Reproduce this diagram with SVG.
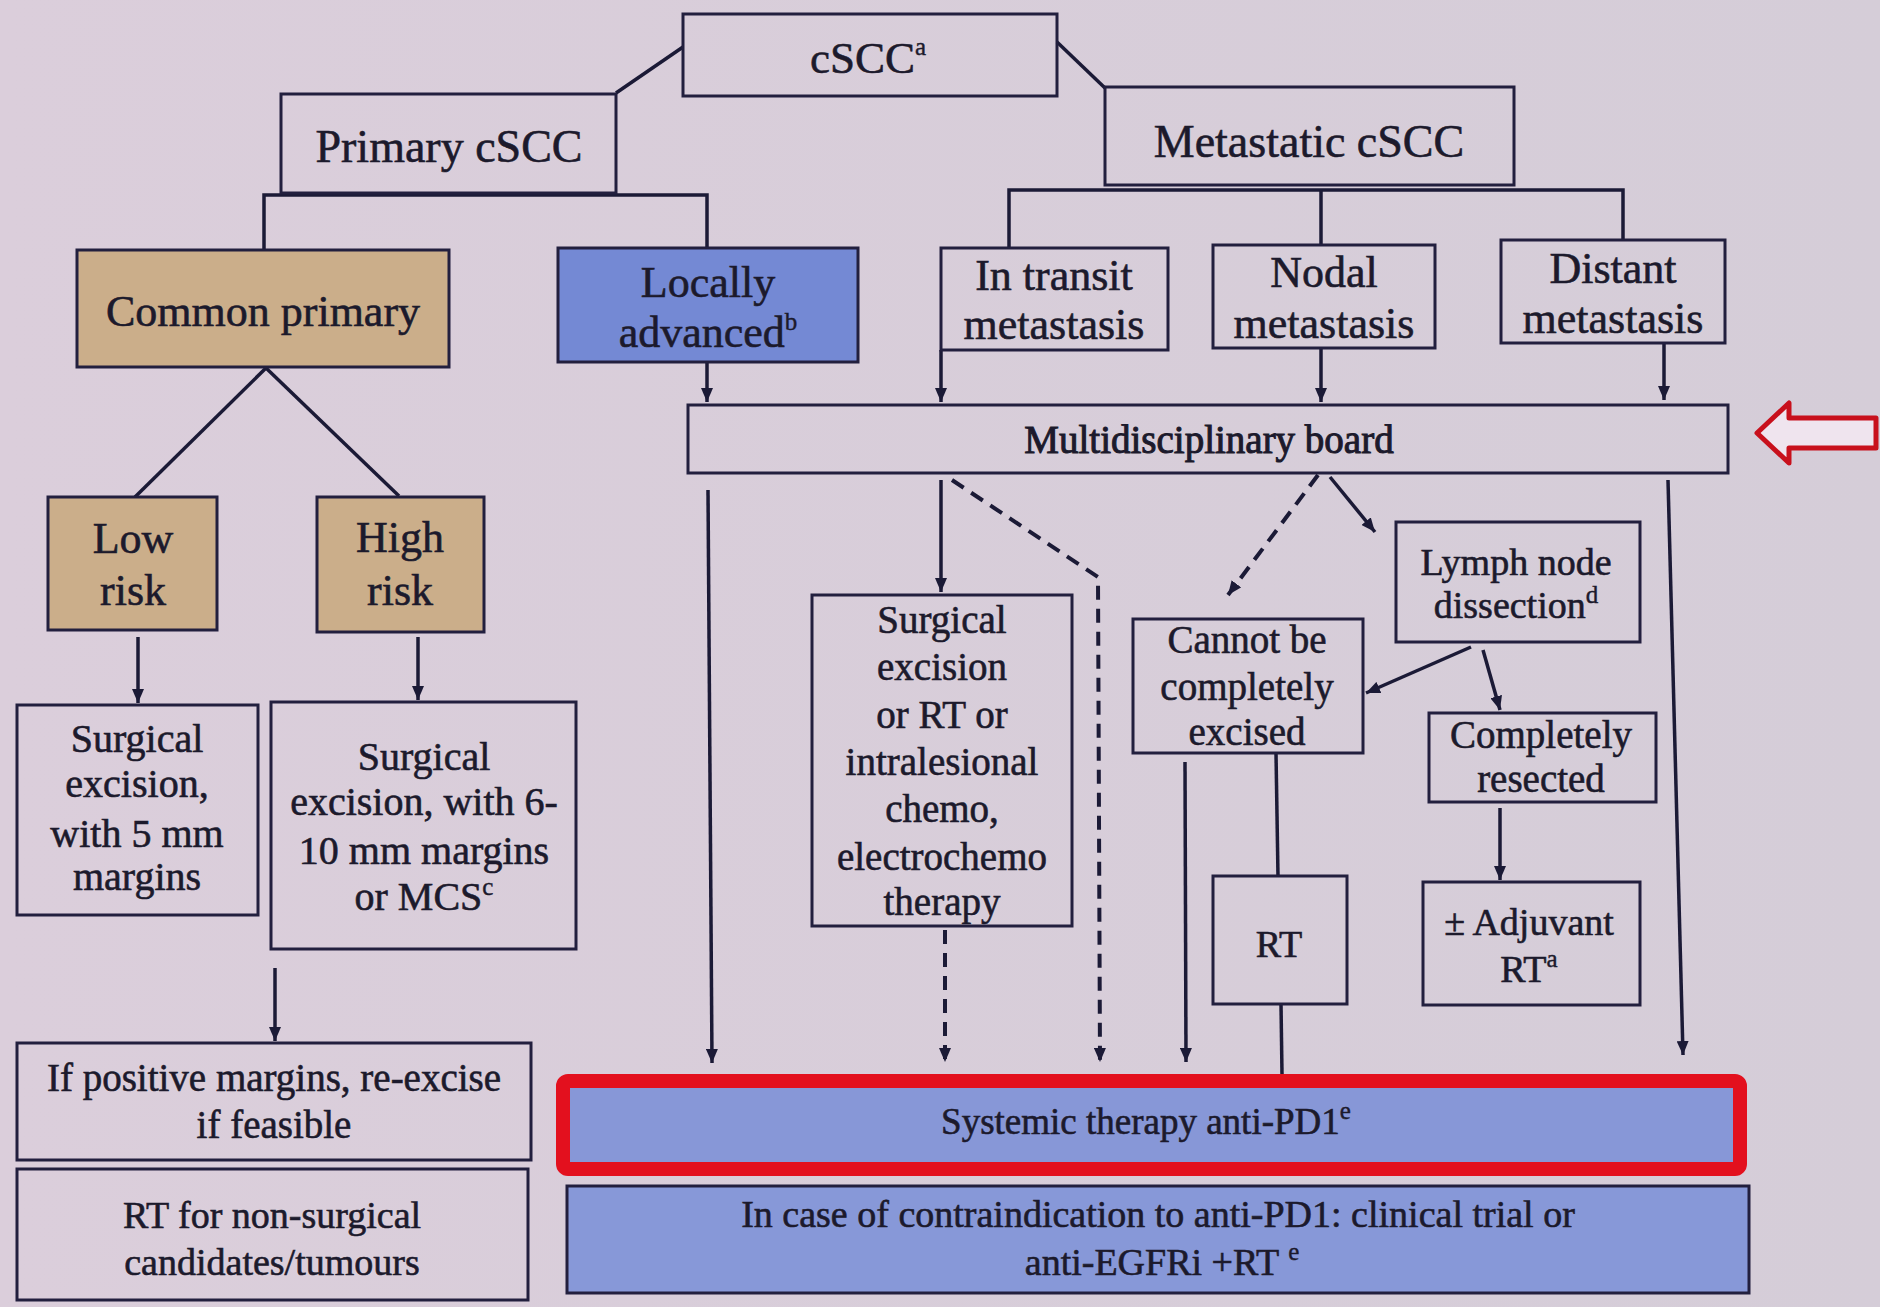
<svg xmlns="http://www.w3.org/2000/svg" width="1880" height="1307" viewBox="0 0 1880 1307">
<defs>
<marker id="ah" viewBox="0 0 14 12" refX="14" refY="6" markerWidth="14" markerHeight="12" markerUnits="userSpaceOnUse" orient="auto">
<path d="M0,0 L14,6 L0,12 z" fill="#1b1a36"/>
</marker>
<linearGradient id="bg" x1="0" y1="0" x2="1" y2="0">
<stop offset="0" stop-color="#dbcedb"/>
<stop offset="1" stop-color="#d5cdd8"/>
</linearGradient>
</defs>
<style>
text{font-family:"Liberation Serif","Times New Roman",serif;fill:#1c1a2c;stroke:#1c1a2c;stroke-width:0.6px;text-anchor:middle}
.box{fill:none;stroke:#221f3e;stroke-width:3}
.tan{fill:#cbae8a;stroke:#221f3e;stroke-width:3}
.blue{fill:#7489d4;stroke:#221f3e;stroke-width:3}
.blue2{fill:#8798d8;stroke:#221f3e;stroke-width:3}
.ln{fill:none;stroke:#1b1a36;stroke-width:3.5}
.ar{fill:none;stroke:#1b1a36;stroke-width:3.5;marker-end:url(#ah)}
.da{fill:none;stroke:#1b1a36;stroke-width:4;stroke-dasharray:14 9;marker-end:url(#ah)}
.f44{font-size:44px}
.f40{font-size:40px}
.f39{font-size:39px}
.f38{font-size:38px}
.f37{font-size:37px}
.sup{font-size:25px;stroke-width:0.4px}
</style>
<rect width="1880" height="1307" fill="url(#bg)"/>

<g id="connectors">
<line class="ln" x1="683" y1="47" x2="616" y2="93"/>
<line class="ln" x1="1057" y1="42" x2="1105" y2="88"/>
<polyline class="ln" points="264,250 264,195 707,195 707,248"/>
<polyline class="ln" points="1009,248 1009,190 1623,190 1623,240"/>
<line class="ln" x1="1321" y1="190" x2="1321" y2="245"/>
<line class="ln" x1="266" y1="368" x2="135" y2="497"/>
<line class="ln" x1="266" y1="368" x2="399" y2="496"/>
<line class="ar" x1="138" y1="637" x2="138" y2="703"/>
<line class="ar" x1="418" y1="637" x2="418" y2="700"/>
<line class="ar" x1="275" y1="968" x2="275" y2="1041"/>
<line class="ar" x1="707" y1="363" x2="707" y2="402"/>
<line class="ar" x1="941" y1="350" x2="941" y2="402"/>
<line class="ar" x1="1321" y1="348" x2="1321" y2="402"/>
<line class="ar" x1="1664" y1="343" x2="1664" y2="400"/>
<line class="ar" x1="708" y1="490" x2="712" y2="1063"/>
<line class="ar" x1="941" y1="480" x2="941" y2="592"/>
<polyline class="da" points="952,480 1098,577 1100,1062"/>
<line class="da" x1="945" y1="930" x2="945" y2="1062"/>
<line class="da" x1="1318" y1="475" x2="1228" y2="595"/>
<line class="ar" x1="1330" y1="477" x2="1375" y2="532"/>
<line class="ar" x1="1471" y1="647" x2="1366" y2="693"/>
<line class="ar" x1="1483" y1="650" x2="1500" y2="710"/>
<line class="ar" x1="1500" y1="808" x2="1500" y2="880"/>
<line class="ln" x1="1276" y1="753" x2="1278" y2="876"/>
<line class="ln" x1="1281" y1="1004" x2="1282" y2="1074"/>
<line class="ar" x1="1185" y1="762" x2="1186" y2="1062"/>
<line class="ar" x1="1668" y1="480" x2="1683" y2="1055"/>
</g>

<g id="n-cscc">
<rect class="box" x="683" y="14" width="374" height="82"/>
<text x="868" y="73" style="font-size:45px">cSCC<tspan class="sup" dy="-18">a</tspan></text>
</g>
<g id="n-primary">
<rect class="box" x="281" y="94" width="335" height="99"/>
<text x="449" y="162" style="font-size:46px">Primary cSCC</text>
</g>
<g id="n-metastatic">
<rect class="box" x="1105" y="87" width="409" height="98"/>
<text x="1309" y="157" style="font-size:46px">Metastatic cSCC</text>
</g>
<g id="n-common">
<rect class="tan" x="77" y="250" width="372" height="117"/>
<text class="f44" x="263" y="326">Common primary</text>
</g>
<g id="n-locally">
<rect class="blue" x="558" y="248" width="300" height="114"/>
<text class="f44" x="708" y="297">Locally</text>
<text class="f44" x="708" y="347">advanced<tspan class="sup" dy="-17">b</tspan></text>
</g>
<g id="n-intransit">
<rect class="box" x="941" y="248" width="227" height="102"/>
<text class="f44" x="1054" y="290">In transit</text>
<text class="f44" x="1054" y="339">metastasis</text>
</g>
<g id="n-nodal">
<rect class="box" x="1213" y="245" width="222" height="103"/>
<text class="f44" x="1324" y="287">Nodal</text>
<text class="f44" x="1324" y="338">metastasis</text>
</g>
<g id="n-distant">
<rect class="box" x="1501" y="240" width="224" height="103"/>
<text class="f44" x="1613" y="283">Distant</text>
<text class="f44" x="1613" y="333">metastasis</text>
</g>
<g id="n-board">
<rect class="box" x="688" y="405" width="1040" height="68"/>
<text x="1209" y="453" style="font-size:39px;stroke-width:1px">Multidisciplinary board</text>
</g>
<g id="n-redarrow">
<polygon points="1757,433 1789,403 1789,418 1876,418 1876,448 1789,448 1789,463" fill="#efe4ee" stroke="#c8101c" stroke-width="5" stroke-linejoin="round"/>
</g>
<g id="n-low">
<rect class="tan" x="48" y="497" width="169" height="133"/>
<text class="f44" x="133" y="553">Low</text>
<text class="f44" x="133" y="605">risk</text>
</g>
<g id="n-high">
<rect class="tan" x="317" y="497" width="167" height="135"/>
<text class="f44" x="400" y="552">High</text>
<text class="f44" x="400" y="605">risk</text>
</g>
<g id="n-surg5">
<rect class="box" x="17" y="705" width="241" height="210"/>
<text class="f40" x="137" y="752">Surgical</text>
<text class="f40" x="137" y="797">excision,</text>
<text class="f40" x="137" y="847">with 5 mm</text>
<text class="f40" x="137" y="890">margins</text>
</g>
<g id="n-surg6">
<rect class="box" x="271" y="702" width="305" height="247"/>
<text class="f40" x="424" y="770">Surgical</text>
<text class="f40" x="424" y="815">excision, with 6-</text>
<text class="f40" x="424" y="864">10 mm margins</text>
<text class="f40" x="424" y="910">or MCS<tspan class="sup" dy="-15">c</tspan></text>
</g>
<g id="n-ifpos">
<rect class="box" x="17" y="1043" width="514" height="117"/>
<text class="f39" x="274" y="1091">If positive margins, re-excise</text>
<text class="f39" x="274" y="1138">if feasible</text>
</g>
<g id="n-rtnon">
<rect class="box" x="17" y="1169" width="511" height="131"/>
<text class="f38" x="272" y="1228">RT for non-surgical</text>
<text class="f38" x="272" y="1275">candidates/tumours</text>
</g>
<g id="n-surgrt">
<rect class="box" x="812" y="595" width="260" height="331"/>
<text class="f39" x="942" y="633">Surgical</text>
<text class="f39" x="942" y="680">excision</text>
<text class="f39" x="942" y="728">or RT or</text>
<text class="f39" x="942" y="775">intralesional</text>
<text class="f39" x="942" y="822">chemo,</text>
<text class="f39" x="942" y="870">electrochemo</text>
<text class="f39" x="942" y="915">therapy</text>
</g>
<g id="n-cannot">
<rect class="box" x="1133" y="619" width="230" height="134"/>
<text class="f39" x="1247" y="653">Cannot be</text>
<text class="f39" x="1247" y="700">completely</text>
<text class="f39" x="1247" y="745">excised</text>
</g>
<g id="n-lymph">
<rect class="box" x="1396" y="522" width="244" height="120"/>
<text class="f38" x="1516" y="575">Lymph node</text>
<text class="f38" x="1516" y="618">dissection<tspan class="sup" dy="-15">d</tspan></text>
</g>
<g id="n-resected">
<rect class="box" x="1429" y="713" width="227" height="89"/>
<text class="f39" x="1541" y="748">Completely</text>
<text class="f39" x="1541" y="792">resected</text>
</g>
<g id="n-rt">
<rect class="box" x="1213" y="876" width="134" height="128"/>
<text class="f38" x="1279" y="957">RT</text>
</g>
<g id="n-adjuvant">
<rect class="box" x="1423" y="882" width="217" height="123"/>
<text class="f38" x="1529" y="935">± Adjuvant</text>
<text class="f38" x="1529" y="982">RT<tspan class="sup" dy="-15">a</tspan></text>
</g>
<g id="n-systemic">
<rect x="563" y="1081" width="1177" height="88" rx="5" fill="#8797d7" stroke="#e3101e" stroke-width="14"/>
<text class="f37" x="1146" y="1134">Systemic therapy anti-PD1<tspan class="sup" dy="-15">e</tspan></text>
</g>
<g id="n-contra">
<rect class="blue2" x="567" y="1186" width="1182" height="107"/>
<text class="f38" x="1158" y="1227">In case of contraindication to anti-PD1: clinical trial or</text>
<text class="f38" x="1162" y="1275">anti-EGFRi +RT <tspan class="sup" dy="-15">e</tspan></text>
</g>
</svg>
